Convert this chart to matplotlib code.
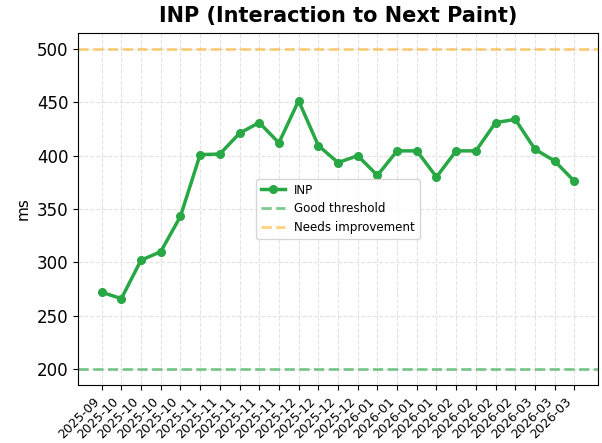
import matplotlib
matplotlib.use("Agg")
import matplotlib.pyplot as plt

labels = ["2025-09", "2025-10", "2025-10", "2025-10", "2025-10",
          "2025-11", "2025-11", "2025-11", "2025-11", "2025-11",
          "2025-12", "2025-12", "2025-12", "2025-12",
          "2026-01", "2026-01", "2026-01", "2026-01",
          "2026-02", "2026-02", "2026-02", "2026-02",
          "2026-03", "2026-03", "2026-03"]
inp_values = [272, 266, 302, 310, 343, 401, 401.5, 421, 431, 412, 451.5, 409.5,
              393.5, 400, 381.5, 404.5, 404.5, 380, 404.5, 404.5, 431, 434,
              406, 395, 376]
good_threshold = 200
needs_improvement = 500

fig = plt.figure(figsize=(6.02, 4.43), dpi=100)
ax = fig.add_axes([78/602, 1 - 385/443, (598-78)/602, (385-33)/443])
x = list(range(len(labels)))
ax.plot(x, inp_values, color="#28a745", marker="o", linewidth=2.5, markersize=5.5, label="INP")
ax.axhline(good_threshold, color="#28a745", linestyle="--", alpha=0.6, linewidth=2, label="Good threshold")
ax.axhline(needs_improvement, color="orange", linestyle="--", alpha=0.5, linewidth=2, label="Needs improvement")
ax.set_xticks(x)
ax.set_xticklabels(labels, rotation=45, ha="right", fontsize=9)
ax.tick_params(axis="y", labelsize=12)
ax.set_ylabel("ms", fontsize=11)
ax.set_title("INP (Interaction to Next Paint)", fontsize=15, fontweight="bold", pad=8)
ax.grid(True, linestyle="--", alpha=0.35)
ax.legend(loc="center", fontsize=8.6)
fig.savefig("out.png", dpi=100)
